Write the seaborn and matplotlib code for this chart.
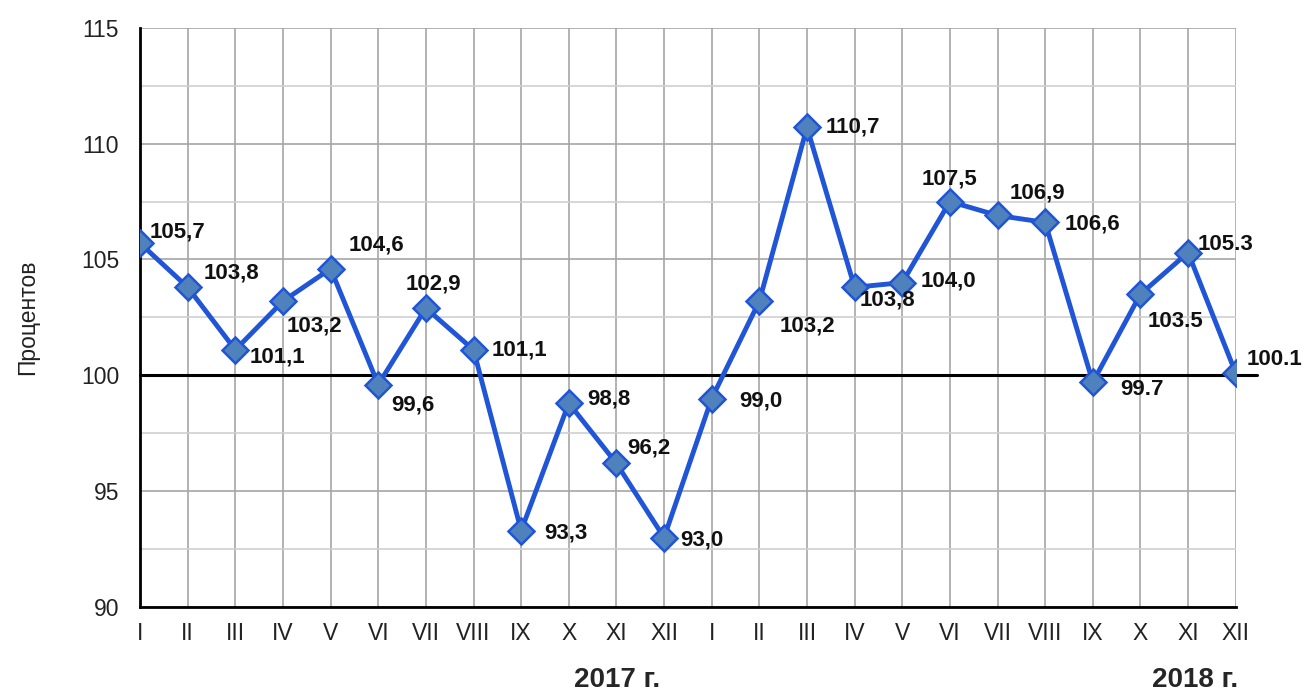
import matplotlib
matplotlib.use("Agg")
import matplotlib.pyplot as plt
import numpy as np
import pandas as pd
import seaborn as sns
from matplotlib.ticker import MultipleLocator

# Data
MONTHS = ['I', 'II', 'III', 'IV', 'V', 'VI', 'VII', 'VIII', 'IX', 'X', 'XI', 'XII']
VALUES = [105.7, 103.8, 101.1, 103.2, 104.6, 99.6, 102.9, 101.1, 93.3, 98.8, 96.2, 93.0,
          99.0, 103.2, 110.7, 103.8, 104.0, 107.5, 106.9, 106.6, 99.7, 103.5, 105.3, 100.1]
LABELS = ['105,7', '103,8', '101,1', '103,2', '104,6', '99,6', '102,9', '101,1', '93,3',
          '98,8', '96,2', '93,0', '99,0', '103,2', '110,7', '103,8', '104,0', '107,5',
          '106,9', '106,6', '99.7', '103.5', '105.3', '100.1']
YEARS = ['2017 г.', '2018 г.']

# label offsets in pixels (dx, dy), ha
OFFSETS = [(10, 11, 'left'), (16, 14, 'left'), (14, -7, 'left'), (4, -25, 'left'),
           (18, 24, 'left'), (13, -20, 'left'), (8, 24, 'center'), (18, 0, 'left'),
           (23, -2, 'left'), (18, 4, 'left'), (11, 15, 'left'), (16, -2, 'left'),
           (28, -2, 'left'), (20, -25, 'left'), (19, 0, 'left'), (5, -13, 'left'),
           (18, 2, 'left'), (0, 23, 'center'), (12, 22, 'left'), (19, -2, 'left'),
           (27, -7, 'left'), (7, -27, 'left'), (10, 8, 'left'), (11, 14, 'left')]

df = pd.DataFrame({'x': np.arange(len(VALUES)), 'value': VALUES})

sns.set_style('white')
plt.rcParams['font.family'] = ['Liberation Sans', 'DejaVu Sans']

fig = plt.figure(figsize=(13.09, 6.93), dpi=100)
ax = fig.add_axes([0.107, 0.124, 0.837, 0.836])

sns.lineplot(data=df, x='x', y='value', ax=ax, color='#1f55d6', linewidth=3.5,
             marker='D', markersize=13, markerfacecolor='#4f81bd',
             markeredgecolor='#1f55d6', markeredgewidth=1.8, zorder=5)

ax.set_xlim(0, len(VALUES) - 1)
ax.set_ylim(90, 115)
ax.yaxis.set_major_locator(MultipleLocator(5))
ax.yaxis.set_minor_locator(MultipleLocator(2.5))
ax.set_xticks(range(len(VALUES)))
ax.set_xticklabels(MONTHS * 2)

ax.grid(which='major', axis='both', color='#a6a6a6', linewidth=1.2)
ax.grid(which='minor', axis='y', color='#cfcfcf', linewidth=1.2)
ax.set_axisbelow(True)

for s in ['top', 'right']:
    ax.spines[s].set_visible(False)
for s in ['left', 'bottom']:
    ax.spines[s].set_color('black')
    ax.spines[s].set_linewidth(2)

ax.tick_params(axis='both', which='major', direction='out', length=6, width=2,
               color='black', labelsize=16.5, labelcolor='#222222')
ax.tick_params(axis='x', pad=5)
ax.tick_params(axis='y', pad=9)
ax.tick_params(axis='y', which='minor', length=0)

# 100 reference line
ax.plot([0, len(VALUES) - 0.55], [100, 100], color='black', linewidth=2.2,
        clip_on=False, zorder=4)

for i, (v, lab) in enumerate(zip(VALUES, LABELS)):
    dx, dy, ha = OFFSETS[i]
    ax.annotate(lab, (i, v), xytext=(dx, dy), textcoords='offset pixels',
                ha=ha, va='center', fontsize=16, fontweight='bold',
                color='#111111', zorder=6)

ax.set_xlabel('')
ax.set_ylabel('Процентов', fontsize=16.5, labelpad=30, color='#222222')

fig.text(617 / 1309, 1 - 680 / 693, YEARS[0], ha='center', va='center',
         fontsize=20, fontweight='bold')
fig.text(1195 / 1309, 1 - 680 / 693, YEARS[1], ha='center', va='center',
         fontsize=20, fontweight='bold')

fig.savefig('out.png', dpi=100)
